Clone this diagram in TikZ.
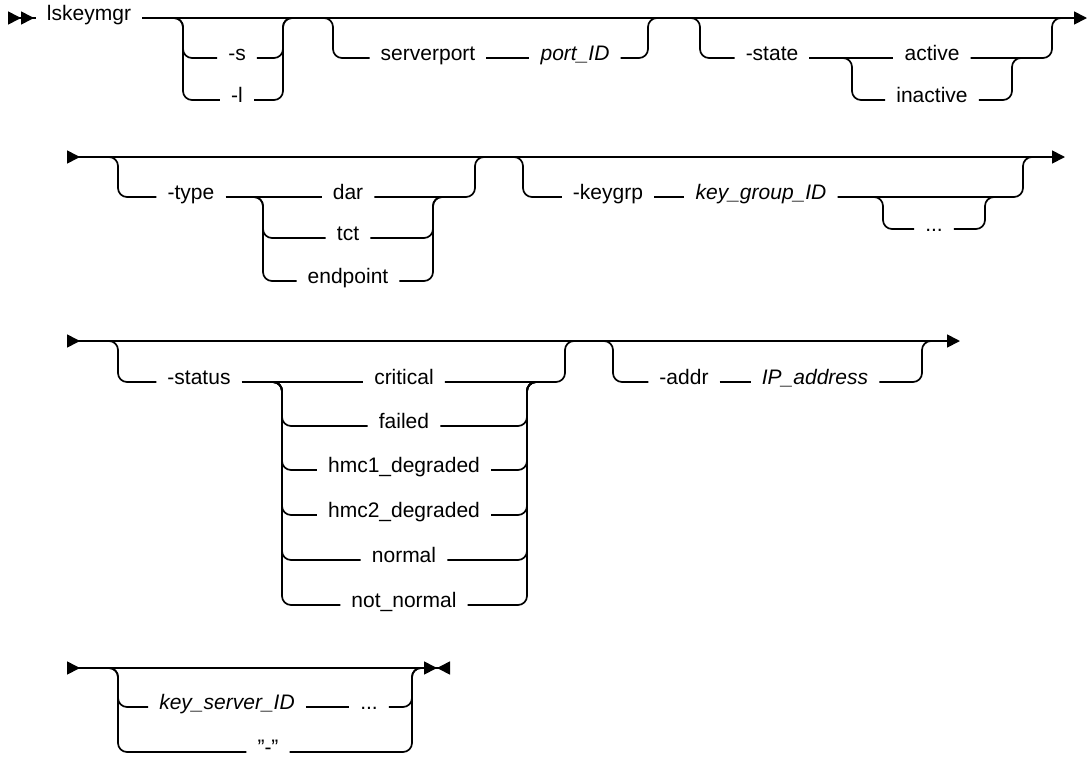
\documentclass[tikz,border=0pt]{standalone}
\usepackage{fontspec}
\setmainfont{Liberation Sans}
\usepackage{tikz}
\usetikzlibrary{arrows.meta,positioning}
\tikzset{
  rr/.style={line width=1.7pt,rounded corners=9pt},
  kw/.style={inner xsep=11pt,inner ysep=0pt,anchor=mid,font=\fontsize{21}{24}\selectfont},
  var/.style={kw,font=\fontsize{21}{24}\selectfont\itshape},
  rtip/.tip={Triangle[length=13pt,width=13pt]},
  ltip/.tip={Triangle[length=13pt,width=13pt,reversed]},
}

\begin{document}
\begin{tikzpicture}[x=1pt,y=-1pt]
 \useasboundingbox (0,0) rectangle (1089,758);
 % row 1
 \coordinate (r1s) at (8,18);
 \coordinate (r1e) at (1087,18);
 \node[kw] (cmd) at (89,18) {lskeymgr};
 \draw[rr,{ltip[]ltip[]}-] (r1s) -- (cmd.mid west);
 \draw[rr,-{rtip[]}] (cmd.mid east) -- (r1e);
 \coordinate (sL) at (183,18);
 \coordinate (sR) at (283,18);
 \node[kw] (optS) at (237,58) {-s};
 \node[kw] (optL) at (237,100) {-l};
 \draw[rr] ([xshift=-14pt]sL) -- (sL) |- (optS.mid west);
 \draw[rr] ([xshift=-14pt]sL) -- (sL) |- (optL.mid west);
 \draw[rr] (optS.mid east) -| (sR) -- ([xshift=14pt]sR);
 \draw[rr] (optL.mid east) -| (sR) -- ([xshift=14pt]sR);
 \coordinate (spL) at (333,18);
 \coordinate (spR) at (648,18);
 \node[kw] (sport) at (428,58) {serverport};
 \node[var] (portid) at (575,58) {port\_ID};
 \draw[rr] ([xshift=-14pt]spL) -- (spL) |- (sport.mid west);
 \draw[rr] (sport.mid east) -- (portid.mid west);
 \draw[rr] (portid.mid east) -| (spR) -- ([xshift=14pt]spR);
 \coordinate (stL) at (700,18);
 \coordinate (stR) at (1052,18);
 \coordinate (stiL) at (852,58);
 \coordinate (stiR) at (1012,58);
 \node[kw] (state) at (772,58) {-state};
 \node[kw] (active) at (932,58) {active};
 \node[kw] (inactive) at (932,100) {inactive};
 \draw[rr] ([xshift=-14pt]stL) -- (stL) |- (state.mid west);
 \draw[rr] (state.mid east) -- (active.mid west);
 \draw[rr] ([xshift=-14pt]stiL) -- (stiL) |- (inactive.mid west);
 \draw[rr] (inactive.mid east) -| (stiR) -- ([xshift=14pt]stiR);
 \draw[rr] (active.mid east) -| (stR) -- ([xshift=14pt]stR);
 % row 2
 \coordinate (r2s) at (67,157);
 \coordinate (r2e) at (1065,157);
 \draw[rr,{ltip[]}-{rtip[]}] (r2s) -- (r2e);
 \coordinate (tyL) at (118,157);
 \coordinate (tyR) at (475,157);
 \coordinate (tyiL) at (263,197);
 \coordinate (tyiR) at (433,197);
 \node[kw] (type) at (191,197) {-type};
 \node[kw] (dar) at (348,197) {dar};
 \node[kw] (tct) at (348,238) {tct};
 \node[kw] (endpoint) at (348,281) {endpoint};
 \draw[rr] ([xshift=-14pt]tyL) -- (tyL) |- (type.mid west);
 \draw[rr] (type.mid east) -- (dar.mid west);
 \draw[rr] ([xshift=-14pt]tyiL) -- (tyiL) |- (tct.mid west);
 \draw[rr] ([xshift=-14pt]tyiL) -- (tyiL) |- (endpoint.mid west);
 \draw[rr] (tct.mid east) -| (tyiR) -- ([xshift=14pt]tyiR);
 \draw[rr] (endpoint.mid east) -| (tyiR) -- ([xshift=14pt]tyiR);
 \draw[rr] (dar.mid east) -| (tyR) -- ([xshift=14pt]tyR);
 \coordinate (kgL) at (523,157);
 \coordinate (kgR) at (1023,157);
 \coordinate (lpL) at (883,197);
 \coordinate (lpR) at (985,197);
 \node[kw] (keygrp) at (608,197) {-keygrp};
 \node[var] (groupid) at (761,197) {key\_group\_ID};
 \node[kw] (kgmore) at (934,229) {...};
 \draw[rr] ([xshift=-14pt]kgL) -- (kgL) |- (keygrp.mid west);
 \draw[rr] (keygrp.mid east) -- (groupid.mid west);
 \draw[rr] (groupid.mid east) -| (kgR) -- ([xshift=14pt]kgR);
 \draw[rr] ([xshift=-14pt]lpL) -- (lpL) |- (kgmore.mid west);
 \draw[rr] (kgmore.mid east) -| (lpR) -- ([xshift=14pt]lpR);
 % row 3
 \coordinate (r3s) at (67,341);
 \coordinate (r3e) at (960,341);
 \draw[rr,{ltip[]}-{rtip[]}] (r3s) -- (r3e);
 \coordinate (stsL) at (118,341);
 \coordinate (stsR) at (565,341);
 \coordinate (siL) at (282,382);
 \coordinate (siR) at (527,382);
 \node[kw] (status) at (199,382) {-status};
 \node[kw] (critical) at (404,382) {critical};
 \node[kw] (failed) at (404,426) {failed};
 \node[kw] (hmcone) at (404,470) {hmc1\_degraded};
 \node[kw] (hmctwo) at (404,515) {hmc2\_degraded};
 \node[kw] (normal) at (404,560) {normal};
 \node[kw] (notnormal) at (404,605) {not\_normal};
 \draw[rr] ([xshift=-14pt]stsL) -- (stsL) |- (status.mid west);
 \draw[rr] (status.mid east) -- (critical.mid west);
 \draw[rr] ([xshift=-14pt]siL) -- (siL) |- (failed.mid west);
 \draw[rr] ([xshift=-14pt]siL) -- (siL) |- (hmcone.mid west);
 \draw[rr] ([xshift=-14pt]siL) -- (siL) |- (hmctwo.mid west);
 \draw[rr] ([xshift=-14pt]siL) -- (siL) |- (normal.mid west);
 \draw[rr] ([xshift=-14pt]siL) -- (siL) |- (notnormal.mid west);
 \draw[rr] (failed.mid east) -| (siR) -- ([xshift=14pt]siR);
 \draw[rr] (hmcone.mid east) -| (siR) -- ([xshift=14pt]siR);
 \draw[rr] (hmctwo.mid east) -| (siR) -- ([xshift=14pt]siR);
 \draw[rr] (normal.mid east) -| (siR) -- ([xshift=14pt]siR);
 \draw[rr] (notnormal.mid east) -| (siR) -- ([xshift=14pt]siR);
 \draw[rr] (critical.mid east) -| (stsR) -- ([xshift=14pt]stsR);
 \coordinate (adL) at (613,341);
 \coordinate (adR) at (922,341);
 \node[kw] (addr) at (684,382) {-addr};
 \node[var] (ipaddr) at (815,382) {IP\_address};
 \draw[rr] ([xshift=-14pt]adL) -- (adL) |- (addr.mid west);
 \draw[rr] (addr.mid east) -- (ipaddr.mid west);
 \draw[rr] (ipaddr.mid east) -| (adR) -- ([xshift=14pt]adR);
 % row 4
 \coordinate (r4s) at (67,668);
 \coordinate (r4e) at (450,668);
 \draw[rr,{ltip[]}-{rtip[]ltip[]}] (r4s) -- (r4e);
 \coordinate (ksL) at (118,668);
 \coordinate (ksR) at (412,668);
 \node[var] (serverid) at (227,707) {key\_server\_ID};
 \node[kw] (ksmore) at (369,707) {...};
 \node[kw] (dash) at (268,752) {"-"};
 \draw[rr] ([xshift=-14pt]ksL) -- (ksL) |- (serverid.mid west);
 \draw[rr] (serverid.mid east) -- (ksmore.mid west);
 \draw[rr] (ksmore.mid east) -| (ksR) -- ([xshift=14pt]ksR);
 \draw[rr] ([xshift=-14pt]ksL) -- (ksL) |- (dash.mid west);
 \draw[rr] (dash.mid east) -| (ksR) -- ([xshift=14pt]ksR);
\end{tikzpicture}
\end{document}
